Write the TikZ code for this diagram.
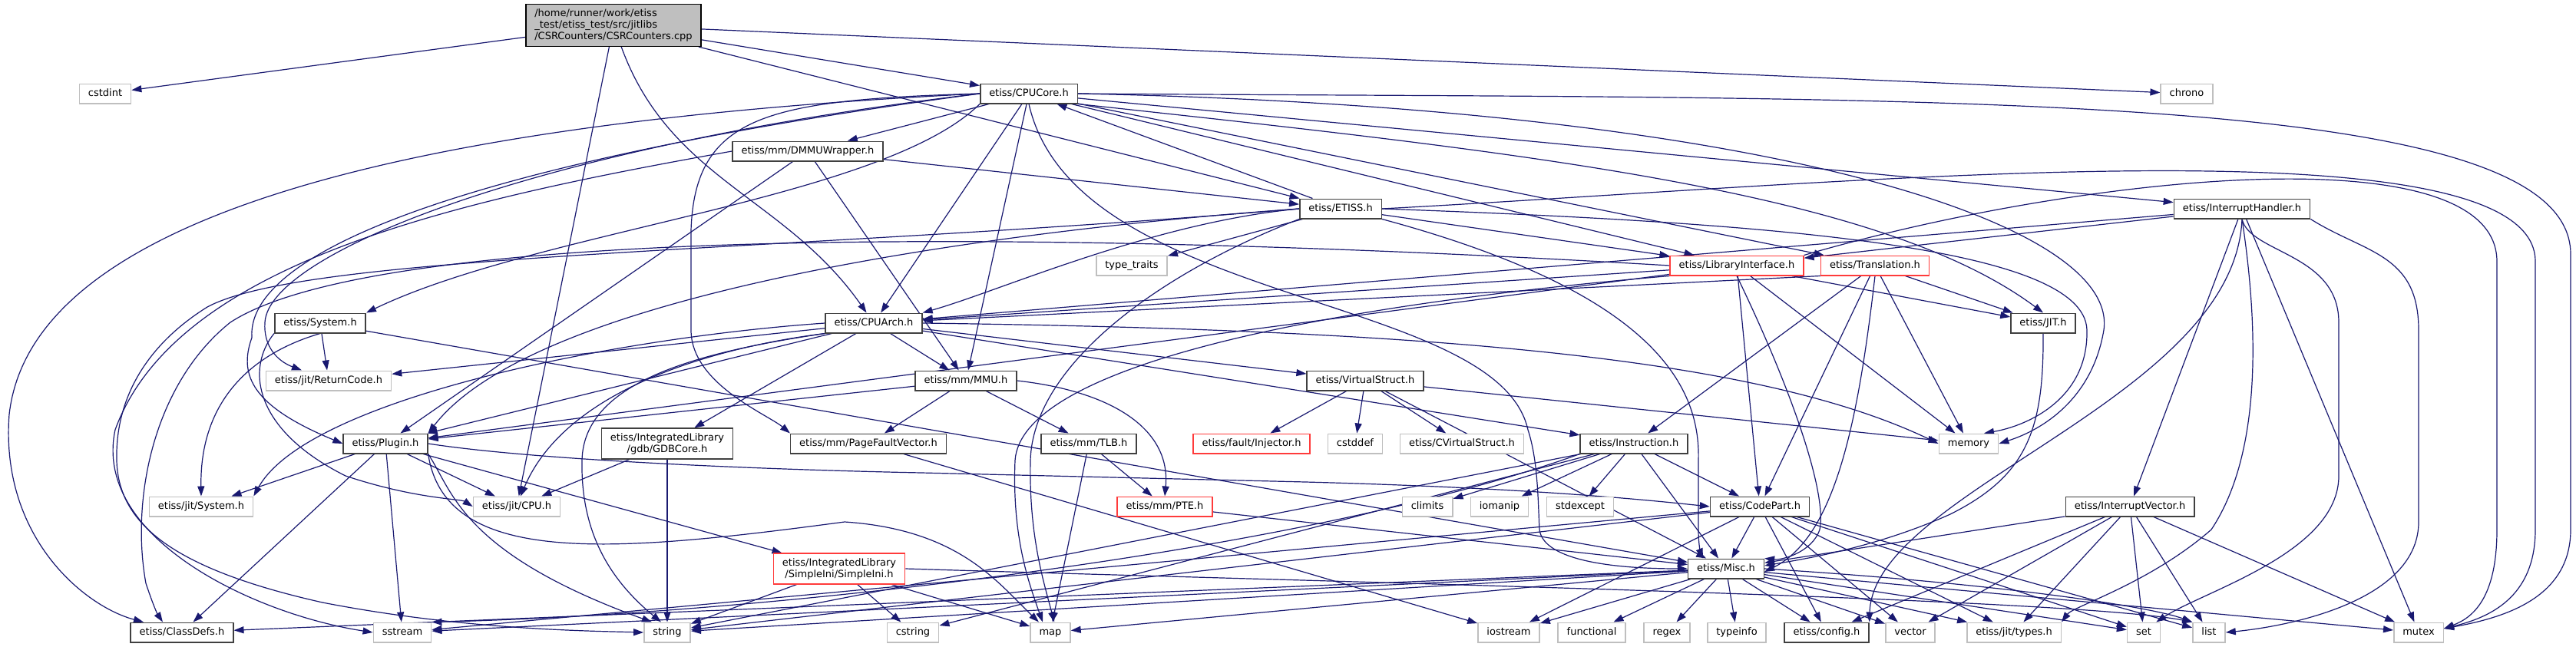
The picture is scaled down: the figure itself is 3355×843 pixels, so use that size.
\documentclass[tikz,border=0pt]{standalone}
\usepackage{fontspec}
\setmainfont{DejaVu Sans}
\usepackage{tikz}
\usetikzlibrary{arrows.meta,backgrounds}
\definecolor{edgeblue}{HTML}{191970}
\definecolor{sysgray}{HTML}{BFBFBF}
\definecolor{hdrline}{HTML}{404040}
\definecolor{cutred}{HTML}{FF3B3B}
\tikzset{
  box/.style={rectangle, fill=white, line width=1.5pt, inner xsep=11.5pt, inner ysep=0pt,
    minimum height=25.5pt, font=\fontsize{13}{15}\selectfont},
  hdr/.style={box, draw=hdrline},
  syshdr/.style={box, draw=sysgray},
  cuthdr/.style={box, draw=cutred},
  one/.style={text height=10pt, text depth=3pt},
  dep/.style={draw=edgeblue, line width=1.2pt, -{Triangle[length=13pt,width=9pt]}}
}
\newcommand{\hnode}[3]{\node[hdr,one] (#1) at (#2) {#3};}
\newcommand{\snode}[3]{\node[syshdr,one] (#1) at (#2) {#3};}
\newcommand{\tnode}[3]{\node[cuthdr,one] (#1) at (#2) {#3};}
\newcommand{\deps}[2]{\foreach \tgt in {#2}{\draw[dep] (#1) -- (\tgt);}}

\begin{document}
\begin{tikzpicture}[x=1pt,y=-1pt]
\useasboundingbox (0,0) rectangle (3355,843);
% row 1
\node[box, draw=black, fill=sysgray, align=left, inner ysep=6pt] (root) at (799,33)
  {/home/runner/work/etiss\\\_test/etiss\_test/src/jitlibs\\/CSRCounters/CSRCounters.cpp};
\snode{cstdint}{137,122}{cstdint}
\hnode{cpucore}{1340,122}{etiss/CPUCore.h}
\snode{chrono}{2848,122}{chrono}
% row 2 and 3
\hnode{dmmu}{1052,197}{etiss/mm/DMMUWrapper.h}
\hnode{etiss}{1746,272}{etiss/ETISS.h}
\hnode{ihandler}{2920,272}{etiss/InterruptHandler.h}
\snode{typetraits}{1474,346}{type\_traits}
\tnode{libif}{2262,346}{etiss/LibraryInterface.h}
\tnode{transl}{2442,346}{etiss/Translation.h}
% row 4
\hnode{system}{417,421}{etiss/System.h}
\hnode{cpuarch}{1138,421}{etiss/CPUArch.h}
\hnode{jit}{2661,421}{etiss/JIT.h}
\snode{retcode}{428,496}{etiss/jit/ReturnCode.h}
\hnode{mmu}{1258,496}{etiss/mm/MMU.h}
\hnode{vstruct}{1778,496}{etiss/VirtualStruct.h}
% row 5
\hnode{plugin}{502,578}{etiss/Plugin.h}
\node[hdr, align=center, inner ysep=6pt] (gdbcore) at (869,578) {etiss/IntegratedLibrary\\/gdb/GDBCore.h};
\hnode{pfvec}{1131,578}{etiss/mm/PageFaultVector.h}
\hnode{tlb}{1418,578}{etiss/mm/TLB.h}
\tnode{injector}{1630,578}{etiss/fault/Injector.h}
\snode{cstddef}{1765,578}{cstddef}
\snode{cvstruct}{1904,578}{etiss/CVirtualStruct.h}
\hnode{instr}{2128,578}{etiss/Instruction.h}
\snode{memory}{2564,578}{memory}
% row 6
\snode{jitsys}{262,660}{etiss/jit/System.h}
\snode{jitcpu}{673,660}{etiss/jit/CPU.h}
\tnode{pte}{1517,660}{etiss/mm/PTE.h}
\snode{climits}{1859,660}{climits}
\snode{iomanip}{1953,660}{iomanip}
\snode{stdexcept}{2058,660}{stdexcept}
\hnode{codepart}{2292,660}{etiss/CodePart.h}
\hnode{ivector}{2774,660}{etiss/InterruptVector.h}
\node[cuthdr, align=center, inner ysep=6pt] (simpleini) at (1093,741) {etiss/IntegratedLibrary\\/SimpleIni/SimpleIni.h};
\hnode{misc}{2248,741}{etiss/Misc.h}
% bottom row
\hnode{classdefs}{237,824}{etiss/ClassDefs.h}
\snode{sstream}{524,824}{sstream}
\snode{string}{869,824}{string}
\snode{cstring}{1189,824}{cstring}
\snode{map}{1368,824}{map}
\snode{iostream}{1965,824}{iostream}
\snode{functional}{2073,824}{functional}
\snode{regex}{2171,824}{regex}
\snode{typeinfo}{2262,824}{typeinfo}
\hnode{config}{2379,824}{etiss/config.h}
\snode{vector}{2488,824}{vector}
\snode{jittypes}{2623,824}{etiss/jit/types.h}
\snode{set}{2792,824}{set}
\snode{list}{2877,824}{list}
\snode{mutex}{3150,824}{mutex}

\begin{pgfonlayer}{background}
% CSRCounters.cpp
\deps{root}{cstdint,cpucore,chrono,etiss,jitcpu}
\draw[dep] (root) to[out=-70,in=125] (cpuarch);
% CPUCore.h
\deps{cpucore}{dmmu,ihandler,libif,transl,cpuarch,mmu}
\draw[dep] (cpucore.south west) .. controls (1150,260) and (700,300) .. (system.north east);
\draw[dep] (cpucore.south east) .. controls (2000,200) and (2450,250) .. (jit.north);
\draw[dep] (cpucore.west) .. controls (1000,130) and (905,150) .. (900,300) -- (900,430)
  .. controls (900,500) and (1000,540) .. (pfvec.north west);
\draw[dep] (cpucore.west) .. controls (700,190) and (350,330) .. (345,420)
  .. controls (343,450) and (360,470) .. ([xshift=-35pt]retcode.north);
\draw[dep] (cpucore.west) .. controls (650,205) and (320,320) .. (328,440)
  .. controls (310,490) and (330,530) .. (plugin.west);
\draw[dep] (cpucore.west) .. controls (500,160) and (40,290) .. (12,540)
  .. controls (0,700) and (110,790) .. ([xshift=-50pt]classdefs.north);
\draw[dep] (cpucore.east) .. controls (2300,140) and (2760,290) .. (2740,430)
  .. controls (2725,520) and (2660,560) .. (memory.east);
\draw[dep] (cpucore.south) .. controls (1400,400) and (1950,380) .. (1990,560)
  .. controls (2003,600) and (2003,650) .. (2005,690) .. controls (2010,730) and (2100,741) .. (misc.west);
\draw[dep] (cpucore.east) .. controls (2500,130) and (3345,110) .. (3348,330) -- (3348,690)
  .. controls (3348,780) and (3260,805) .. ([yshift=5pt]mutex.east);
% ETISS.h
\deps{etiss}{cpucore,typetraits,libif}
\draw[dep] (etiss.west) .. controls (1500,290) and (1300,380) .. (cpuarch.north east);
\draw[dep] (etiss.west) .. controls (1300,300) and (700,380) .. (plugin.north east);
\draw[dep] (etiss.south west) .. controls (1500,360) and (1345,480) .. (1342,600)
  .. controls (1340,700) and (1360,760) .. ([xshift=5pt]map.north);
\draw[dep] (etiss.east) .. controls (2300,290) and (2715,320) .. (2718,430)
  .. controls (2720,520) and (2640,555) .. ([xshift=20pt]memory.north);
\draw[dep] (etiss.south east) .. controls (2150,380) and (2215,500) .. (2212,600) -- (2212,690)
  .. controls (2212,710) and (2215,720) .. ([xshift=-30pt]misc.north);
\draw[dep] (etiss.east) .. controls (2400,240) and (3300,150) .. (3302,340) -- (3302,690)
  .. controls (3302,780) and (3240,805) .. ([yshift=5pt]mutex.east);
\draw[dep] (etiss.west) .. controls (1000,330) and (400,330) .. (270,400)
  .. controls (190,450) and (150,520) .. (152,600) .. controls (154,680) and (220,740) .. (420,785)
  .. controls (600,820) and (760,822) .. (string.west);
% DMMUWrapper.h
\deps{dmmu}{etiss,mmu,plugin}
\draw[dep] (dmmu.west) .. controls (600,260) and (230,340) .. (150,560)
  .. controls (120,700) and (330,800) .. (sstream.west);
% InterruptHandler.h
\deps{ihandler}{libif,cpuarch,ivector,mutex}
\draw[dep] (ihandler.south) .. controls (2910,520) and (2440,640) .. (config.north east);
\draw[dep] (ihandler.south) .. controls (2945,450) and (2940,600) .. (2880,690)
  .. controls (2800,760) and (2700,790) .. (jittypes.north east);
\draw[dep] (ihandler.south) .. controls (2930,330) and (3046,330) .. (3046,420) -- (3046,620)
  .. controls (3046,720) and (2870,770) .. ([xshift=-6pt]set.north east);
\draw[dep] (ihandler.south east) .. controls (3080,330) and (3150,330) .. (3150,430) -- (3150,680)
  .. controls (3150,780) and (2990,815) .. (list.east);
% LibraryInterface.h
\deps{libif}{jit,cpuarch,plugin,memory,codepart}
\draw[dep] (libif.south west) .. controls (1700,400) and (1330,480) .. (1322,600)
  .. controls (1318,700) and (1340,760) .. ([xshift=-10pt]map.north);
\draw[dep] (libif.south) .. controls (2330,500) and (2380,640) .. (2370,690)
  .. controls (2360,720) and (2320,730) .. (misc.north east);
\draw[dep] (libif.north east) .. controls (2700,230) and (3250,170) .. (3252,340) -- (3252,690)
  .. controls (3252,780) and (3220,805) .. ([yshift=5pt]mutex.east);
\draw[dep] (libif.west) .. controls (1400,300) and (500,290) .. (300,420)
  .. controls (200,500) and (170,650) .. (190,760) .. controls (200,790) and (205,800) .. ([xshift=-25pt]classdefs.north);
% Translation.h
\deps{transl}{jit,instr,codepart,memory}
\draw[dep] (transl.south west) -- (cpuarch);
\draw[dep] (transl.south) .. controls (2420,550) and (2390,700) .. ([yshift=-4pt]misc.east);
% System.h
\deps{system}{retcode,misc}
\draw[dep] (system.south) .. controls (330,460) and (260,520) .. (jitsys.north);
\draw[dep] (system.south west) .. controls (320,480) and (330,560) .. (450,620)
  .. controls (540,650) and (600,650) .. (jitcpu.west);
% JIT.h
\draw[dep] (jit.south) .. controls (2662,560) and (2640,620) .. (2540,670)
  .. controls (2440,715) and (2340,730) .. ([yshift=4pt]misc.east);
% CPUArch.h
\deps{cpuarch}{retcode,mmu,vstruct,plugin,gdbcore,instr}
\draw[dep] (cpuarch.west) .. controls (800,440) and (400,520) .. (jitsys.north east);
\draw[dep] (cpuarch.south west) .. controls (950,450) and (740,500) .. ([xshift=5pt]jitcpu.north);
\draw[dep] (cpuarch.south west) .. controls (900,460) and (760,500) .. (758,600)
  .. controls (756,700) and (800,760) .. ([xshift=-8pt]string.north);
\draw[dep] (cpuarch.east) .. controls (1900,430) and (2300,470) .. (memory.west);
% mm
\deps{mmu}{pfvec,tlb,plugin}
\draw[dep] (mmu.east) .. controls (1450,510) and (1525,560) .. (pte.north);
\deps{tlb}{pte,map}
\deps{pte}{misc}
\deps{pfvec}{iostream}
% VirtualStruct.h
\deps{vstruct}{injector,cstddef,cvstruct,memory,misc}
% Plugin.h
\deps{plugin}{jitsys,jitcpu,classdefs,sstream,simpleini}
\draw[dep] (plugin.south east) .. controls (590,640) and (600,720) .. ([xshift=-20pt]string.north);
\draw[dep] (plugin.east) .. controls (700,600) and (1000,612) .. (1200,616) -- (1700,628)
  .. controls (2000,636) and (2150,652) .. (codepart.west);
\draw[dep] (plugin.south east) .. controls (580,740) and (800,720) .. (1100,680)
  .. controls (1250,690) and (1300,760) .. ([xshift=-15pt]map.north);
% GDBCore.h
\deps{gdbcore}{jitcpu,string}
% Instruction.h
\deps{instr}{climits,iomanip,stdexcept,codepart,misc,string,cstring}
\draw[dep] (instr.south west) .. controls (1700,720) and (1000,800) .. (sstream.north east);
% CodePart.h
\deps{codepart}{misc,config,vector,jittypes,set,list,iostream,string,sstream}
% InterruptVector.h
\deps{ivector}{misc,config,vector,jittypes,set,list,mutex}
% SimpleIni.h
\deps{simpleini}{string,cstring,map}
\draw[dep] (simpleini.east) .. controls (1800,760) and (2700,780) .. (list.north west);
% Misc.h
\deps{misc}{classdefs,sstream,string,map,iostream,functional,regex,typeinfo,config,vector,jittypes,set,mutex}
\draw[dep] (misc.east) .. controls (2600,760) and (2800,790) .. (list.north west);
\end{pgfonlayer}
\end{tikzpicture}
\end{document}
